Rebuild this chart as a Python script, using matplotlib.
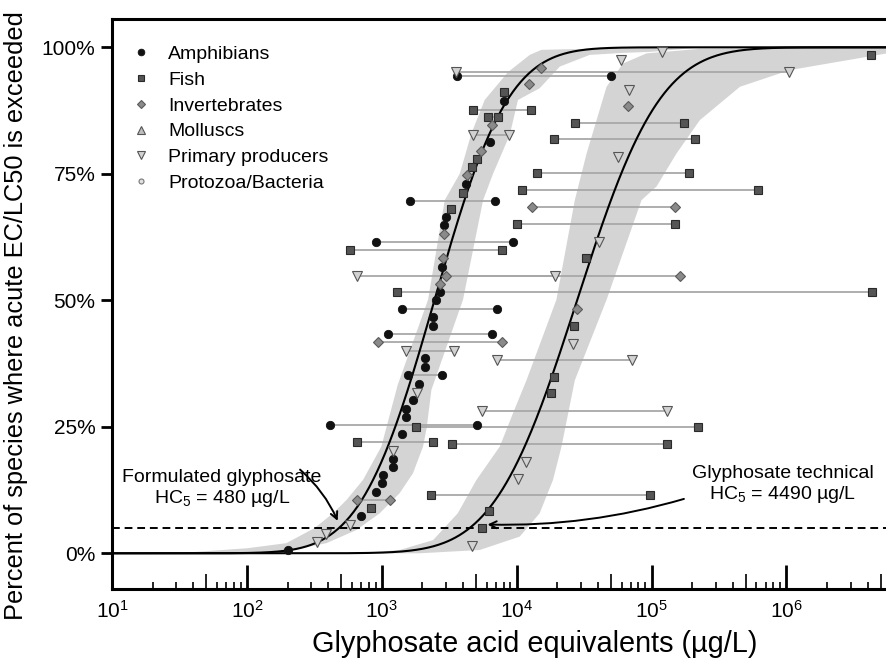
import math

import matplotlib
matplotlib.use("Agg")
import matplotlib.pyplot as plt
import numpy as np
from matplotlib.lines import Line2D
from matplotlib.ticker import FixedLocator, LogLocator, NullLocator

plt.rcParams["font.family"] = ["Liberation Sans", "DejaVu Sans"]
plt.rcParams["mathtext.fontset"] = "custom"
plt.rcParams["mathtext.rm"] = "Liberation Sans"
plt.rcParams["mathtext.it"] = "Liberation Sans:italic"

# ---- fitted SSD curves (log10 mean / sd of log-normal) ----
FORM_MU, FORM_SD = 3.39, 0.43
TECH_MU, TECH_SD = 4.448, 0.484

# ---- confidence bands: outline (conc ug/L, percent) ----
form_band_x = [30, 101, 196, 318, 435, 546, 726, 993, 1313, 2203, 2931, 3784,
               4624, 5794, 8630, 12500, 15280, 41300, 228000,
               97300, 61200, 34800, 20900, 14800, 10230, 8890, 6680, 5640,
               4000, 2333, 2153, 2023, 1702, 1358, 964, 649, 388, 185, 79]
form_band_y = [0, 1.0, 2.0, 5.0, 7.9, 10.5, 14.5, 21.1, 33.3, 50.1, 69.8, 75.0,
               83.0, 89.6, 95.1, 98.5, 99.5, 99.76, 99.96,
               99.1, 98.9, 98.5, 96.2, 91.9, 89.6, 82.7, 75.0, 69.8,
               50.1, 32.3, 24.8, 21.1, 15.8, 11.9, 7.9, 4.6, 2.0, 0.3, 0]
tech_band_x = [686, 1358, 2400, 3656, 5035, 7500, 9400, 11830, 19700, 27000,
               33000, 46400, 61500, 91800, 228000, 5.57e6,
               5.57e6, 1.06e6, 452000, 228000, 153000, 109000, 84300, 46400,
               27000, 21500, 18600, 14800, 10540, 5320, 1910]
tech_band_y = [0, 0.65, 2.6, 7.9, 14.5, 21.1, 27.7, 34.2, 50.1, 69.8,
               79.0, 92.2, 96.8, 98.8, 99.7, 99.96,
               98.8, 95.5, 92.2, 85.6, 79.0, 72.5, 69.8, 50.1,
               34.2, 21.1, 14.5, 7.9, 3.3, 0.65, 0]

# ---- single species points (conc ug/L, percent) ----
amph_x = [8000, 6313, 4244, 3013, 2904, 2817, 2722, 2512, 2398, 2398, 2103,
          2103, 1893, 1715, 1503, 1503, 1409, 1211, 1211, 1016, 1007, 906,
          706, 201]
amph_y = [89.4, 81.2, 73.0, 66.4, 64.8, 56.6, 51.6, 50.0, 46.7, 45.0, 38.5,
          36.8, 33.5, 30.2, 28.6, 26.9, 23.6, 18.7, 17.1, 15.5, 13.8, 12.2,
          7.3, 0.65]
fish_x = [4.22e6, 8065, 5059, 4699, 4029, 3260, 32760, 26740, 18940, 17960,
          834, 6238, 5500]
fish_y = [98.5, 91.2, 78.0, 76.4, 71.3, 68.0, 58.3, 45.0, 34.9, 31.6,
          8.9, 8.3, 4.9]
inv_x = [15200, 12300, 66400, 6535, 5445, 4287, 2890, 2845, 2722, 28180]
inv_y = [96.0, 92.7, 88.4, 84.6, 79.6, 74.8, 63.1, 58.3, 53.3, 48.3]
prod_x = [118600, 58900, 68200, 55980, 40810, 26090, 1837, 1211, 11830,
          10240, 585, 388, 330, 4699]
prod_y = [99.1, 97.5, 91.6, 78.4, 61.5, 41.4, 31.7, 20.3, 18.1,
          14.6, 5.5, 3.9, 2.2, 1.4]

# ---- species ranges: percent, min conc, max conc ----
amph_rng_y = [94.4, 69.7, 61.5, 48.3, 43.4, 35.2, 25.3]
amph_rng_lo = [3610, 1610, 906, 1409, 1107, 1556, 411]
amph_rng_hi = [49700, 6936, 9333, 7117, 6512, 2817, 5119]
fish_rng_y = [87.7, 86.2, 85.1, 81.8, 75.1, 71.8, 65.0, 59.9, 51.6, 24.9,
              22.0, 21.6, 11.6]
fish_rng_lo = [4750, 6137, 27100, 18940, 14220, 10970, 10075, 581, 1301,
               1799, 655, 3316, 2305]
fish_rng_hi = [12800, 7241, 174500, 210500, 190000, 618000, 150000, 7820,
               4.34e6, 221600, 2398, 130500, 97700]
inv_rng_y = [68.4, 54.9, 41.8, 10.5]
inv_rng_lo = [13100, 2979, 935, 655]
inv_rng_hi = [150300, 161600, 7820, 1154]
prod_rng_y = [95.1, 82.7, 54.9, 40.0, 38.2, 28.2]
prod_rng_lo = [3530, 4750, 655, 1503, 7205, 5576]
prod_rng_hi = [1.05e6, 8850, 19170, 3415, 71100, 130500]

HC5_FORM = 480
HC5_TECH = 4490

STYLES = {
    "Amphibians": dict(marker="o", ms=6, mfc="#111111", mec="#111111", mew=0.6),
    "Fish": dict(marker="s", ms=5.2, mfc="#555555", mec="#2a2a2a", mew=0.8),
    "Invertebrates": dict(marker="D", ms=5, mfc="#8a8a8a", mec="#5a5a5a", mew=0.8),
    "Molluscs": dict(marker="^", ms=6.5, mfc="#bdbdbd", mec="#555555", mew=0.8),
    "Primary producers": dict(marker="v", ms=7.5, mfc="#d2d2d2", mec="#555555", mew=0.8),
    "Protozoa/Bacteria": dict(marker="o", ms=4.5, mfc="#e0e0e0", mec="#777777", mew=0.8),
}


def lognorm_cdf(x, mu, sd):
    z = (np.log10(x) - mu) / (sd * math.sqrt(2.0))
    return 50.0 * (1.0 + np.vectorize(math.erf)(z))


fig = plt.figure(figsize=(8.87, 6.59), dpi=100)
ax = fig.add_axes([0.1263, 0.1062, 0.8737, 0.8650])
ax.set_xscale("log")
ax.set_xlim(10, 5.57e6)
ax.set_ylim(-7.06, 105.6)

ax.fill(form_band_x, form_band_y, color="#d4d4d4", lw=0, zorder=1)
ax.fill(tech_band_x, tech_band_y, color="#d4d4d4", lw=0, zorder=1)

xs = np.logspace(1, 6.8, 600)
ax.plot(xs, lognorm_cdf(xs, FORM_MU, FORM_SD), color="black", lw=1.5, zorder=3)
ax.plot(xs, lognorm_cdf(xs, TECH_MU, TECH_SD), color="black", lw=1.5, zorder=3)
ax.axhline(5, color="black", lw=1.4, ls=(0, (4, 2.5)), zorder=3)

groups = [
    ("Amphibians", amph_x, amph_y, amph_rng_y, amph_rng_lo, amph_rng_hi),
    ("Fish", fish_x, fish_y, fish_rng_y, fish_rng_lo, fish_rng_hi),
    ("Invertebrates", inv_x, inv_y, inv_rng_y, inv_rng_lo, inv_rng_hi),
    ("Primary producers", prod_x, prod_y, prod_rng_y, prod_rng_lo, prod_rng_hi),
]
for name, px, py, ry, rlo, rhi in groups:
    ax.hlines(ry, rlo, rhi, color="#a8a8a8", lw=1.3, zorder=2)
    st = STYLES[name]
    ax.plot(px, py, ls="none", zorder=4, **st)
    ax.plot(rlo, ry, ls="none", zorder=4, **st)
    ax.plot(rhi, ry, ls="none", zorder=4, **st)

# annotations
ax.text(65, 12.7, "Formulated glyphosate\nHC$_5$ = %d µg/L" % HC5_FORM,
        ha="center", va="center", fontsize=14, linespacing=1.1)
ax.annotate("", xy=(HC5_FORM, 5.9), xytext=(239, 16.9),
            arrowprops=dict(arrowstyle="->,head_length=0.5,head_width=0.25",
                            connectionstyle="arc3,rad=-0.12",
                            color="black", lw=1.4))
ax.text(9.4e5, 13.5, "Glyphosate technical\nHC$_5$ = %d µg/L" % HC5_TECH,
        ha="center", va="center", fontsize=14, linespacing=1.1)
ax.annotate("", xy=(5800, 5.7), xytext=(1.82e5, 10.9),
            arrowprops=dict(arrowstyle="->,head_length=0.5,head_width=0.25",
                            connectionstyle="arc3,rad=-0.08",
                            color="black", lw=1.4))

# axes styling
for side in ("left", "bottom", "top"):
    ax.spines[side].set_linewidth(2.2)
ax.spines["right"].set_visible(False)

ax.set_yticks([0, 25, 50, 75, 100])
ax.set_yticklabels(["0%", "25%", "50%", "75%", "100%"])
ax.tick_params(axis="y", direction="out", length=8, width=2, labelsize=15, pad=4)

ax.xaxis.set_major_locator(LogLocator(base=10, numticks=20))
ax.xaxis.set_minor_locator(LogLocator(base=10, subs=(2, 3, 4, 6, 7, 8, 9), numticks=20))
ax.tick_params(axis="x", which="major", direction="in", length=17, width=2,
               labelsize=15, pad=8, top=False)
ax.tick_params(axis="x", which="minor", direction="in", length=5, width=1.2, top=False)

fives = [5 * 10 ** k for k in range(1, 7)]
sec = ax.secondary_xaxis("bottom")
sec.xaxis.set_major_locator(FixedLocator(fives))
sec.xaxis.set_minor_locator(NullLocator())
sec.tick_params(axis="x", direction="in", length=11, width=1.2, labelbottom=False)
sec.spines["bottom"].set_visible(False)

ax.set_xlabel("Glyphosate acid equivalents (µg/L)", fontsize=20.8)
ax.xaxis.set_label_coords(0.546, -0.072)
ax.set_ylabel("Percent of species where acute EC/LC50 is exceeded", fontsize=18.3)
ax.yaxis.set_label_coords(-0.108, 0.479)

handles = [Line2D([], [], ls="none", **{**STYLES[n], "ms": STYLES[n]["ms"] * 0.8})
           for n in STYLES]
ax.legend(handles, list(STYLES), loc="upper left", bbox_to_anchor=(0.01, 0.974),
          frameon=False, fontsize=14, handlelength=1.0, handletextpad=0.9,
          labelspacing=0.42, borderaxespad=0.2)

fig.savefig("out.png", dpi=100)
